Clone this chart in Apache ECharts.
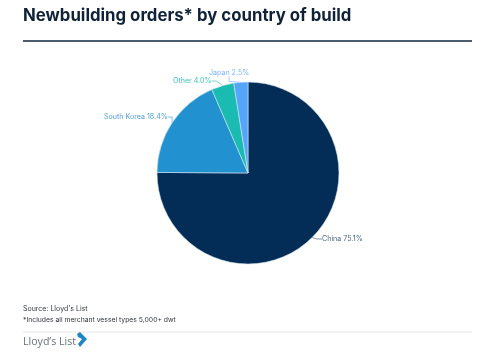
<!DOCTYPE html>
<html>
<head>
<meta charset="utf-8">
<style>
  html, body { margin: 0; padding: 0; background: #fff; }
  #chart { width: 500px; height: 359px; }
</style>
<script src="https://cdn.jsdelivr.net/npm/echarts@6/dist/echarts.min.js"></script>
</head>
<body>
<div id="chart"></div>
<script>
const countries = ['China', 'South Korea', 'Other', 'Japan'];
const shares = [75.1, 18.4, 4.0, 2.5];
const sliceColors = ['#032d56', '#2191d0', '#1abbb0', '#55a6fb'];
const labelColors = ['#4d6a88', '#4f9fd6', '#3fc4b9', '#7ab6fb'];

const chart = echarts.init(document.getElementById('chart'));

// label positions tuned by eye against the reference
const labelSpots = [
  { x: 322, y: 239, align: 'left' },
  { x: 104, y: 117, align: 'left' },
  { x: 173, y: 81, align: 'left' },
  { x: 209, y: 73, align: 'left' },
];

chart.setOption({
  animation: false,
  title: {
    text: 'Newbuilding orders* by country of build',
    left: 18,
    top: 2,
    textStyle: { fontFamily: 'Inter', fontSize: 16.8, fontWeight: 700, color: '#0f2238' },
  },
  series: [
    {
      type: 'pie',
      center: [248, 173],
      radius: [0, 91],
      startAngle: 90,
      clockwise: true,
      silent: true,
      itemStyle: { borderColor: '#d5e6f2', borderWidth: 0.6 },
      label: { fontFamily: 'Inter', fontSize: 7.1 },
      labelLine: { show: true, length: 5, length2: 5, smooth: false, lineStyle: { width: 0.7 } },
      labelLayout: (params) => {
        const spot = labelSpots[params.dataIndex];
        return { x: spot.x, y: spot.y, align: spot.align, verticalAlign: 'middle' };
      },
      data: countries.map((name, i) => ({
        name,
        value: shares[i],
        itemStyle: { color: sliceColors[i] },
        label: {
          color: labelColors[i],
          formatter: name + ' ' + shares[i].toFixed(1) + '%',
        },
        labelLine: { lineStyle: { color: labelColors[i] } },
      })),
    },
  ],
  graphic: [
    { type: 'line', shape: { x1: 23, y1: 41, x2: 472, y2: 41 }, style: { stroke: '#12263f', lineWidth: 1.5 } },
    { type: 'text', left: 23, top: 305, style: { text: 'Source: Lloyd\'s List', fontFamily: 'Inter', fontSize: 7, fill: '#33383e' } },
    { type: 'text', left: 23, top: 316, style: { text: '*Includes all merchant vessel types 5,000+ dwt', fontFamily: 'Inter', fontSize: 6.8, fill: '#33383e' } },
    { type: 'line', shape: { x1: 23, y1: 332, x2: 472, y2: 332 }, style: { stroke: '#e3e5e7', lineWidth: 1 } },
    { type: 'text', left: 23, top: 336, style: { text: 'Lloyd\u2019s List', fontFamily: 'Open Sans', fontSize: 10.6, fill: '#69727d' } },
    { type: 'polygon', shape: { points: [[77, 334], [80, 332], [87, 339], [80, 347], [78, 344], [82, 339], [78, 337]] }, style: { fill: '#1f86c6' } },
  ],
});
</script>
</body>
</html>
